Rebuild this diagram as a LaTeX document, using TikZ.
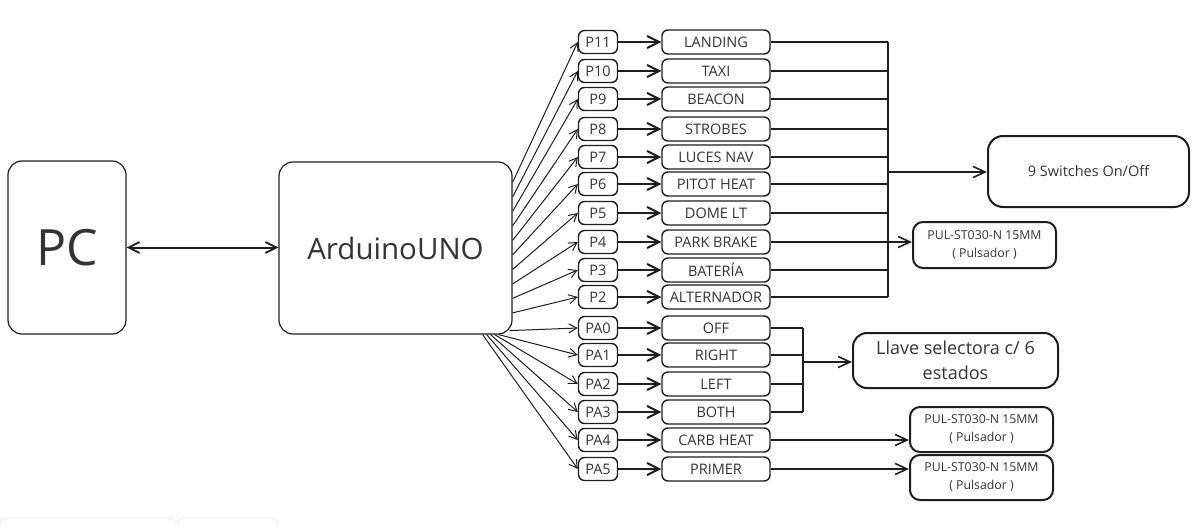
\documentclass[tikz,border=0pt]{standalone}
\usepackage{fontspec}
\setmainfont{Open Sans}
\usetikzlibrary{arrows.meta,calc}
\definecolor{ink}{HTML}{1E1E1E}
\definecolor{txt}{HTML}{333333}
\definecolor{faint}{HTML}{EBEBEB}
\tikzset{
  bigbox/.style={draw=ink, line width=1.2pt, rounded corners=14pt, text=txt, inner sep=0pt, align=center},
  pinbox/.style={draw=ink, line width=1.4pt, rounded corners=6pt, text=txt, inner sep=0pt,
    minimum width=39pt, minimum height=23pt, font=\fontsize{14.5}{16}\selectfont},
  funcbox/.style={draw=ink, line width=1.4pt, rounded corners=6pt, text=txt, inner sep=0pt,
    minimum width=108pt, minimum height=24pt, font=\fontsize{14.5}{16}\selectfont},
  pulbox/.style={draw=ink, line width=2pt, rounded corners=10pt, text=txt, inner sep=0pt, align=center,
    minimum width=143pt, minimum height=45pt, font=\fontsize{12.3}{18}\selectfont},
  fan/.style={draw=ink, line width=1pt, -{Straight Barb[length=8pt,width=9pt,line width=1pt]}},
  link/.style={draw=ink, line width=2.3pt, -{Straight Barb[length=12pt,width=12pt,line width=2pt]}},
  wire/.style={draw=ink, line width=1.6pt},
  feed/.style={draw=ink, line width=1.6pt, -{Straight Barb[length=12pt,width=11pt,line width=1.6pt]}},
  dbl/.style={draw=ink, line width=2pt, {Straight Barb[length=11pt,width=11pt,line width=1.8pt]}-{Straight Barb[length=11pt,width=11pt,line width=1.8pt]}},
}
\begin{document}
\begin{tikzpicture}[x=1pt,y=-1pt]
\useasboundingbox (0,0) rectangle (1202,527);
% faint artifacts at bottom left
\draw[faint, line width=0.8pt, rounded corners=6pt] (0,518) rectangle (175,540);
\draw[faint, line width=0.8pt, rounded corners=6pt] (178,518) rectangle (277,540);

\node[bigbox, minimum width=118pt, minimum height=173pt, font=\fontsize{50}{50}\selectfont] (pc) at (67,247.5) {PC};
\node[bigbox, minimum width=233pt, minimum height=172pt, font=\fontsize{29.5}{30}\selectfont] (ard) at (395.5,248) {ArduinoUNO};
\draw[dbl] (pc.east) -- (pc.east -| ard.west);

\foreach \p/\f/\y [count=\i] in {P11/LANDING/42, P10/TAXI/71, P9/BEACON/99, P8/STROBES/129,
  P7/LUCES NAV/157, P6/PITOT HEAT/184, P5/DOME LT/213, P4/PARK BRAKE/242, P3/BATERÍA/270,
  P2/ALTERNADOR/297, PA0/OFF/328, PA1/RIGHT/355, PA2/LEFT/384, PA3/BOTH/412,
  PA4/CARB HEAT/440, PA5/PRIMER/469}{
  \node[pinbox] (p\i) at (598,\y) {\p};
  \node[funcbox] (f\i) at (716,\y) {\f};
  \draw[link] (p\i) -- (f\i);
}

% fan from Arduino
\foreach \i in {1,...,10}{
  \draw[fan] ($(ard.north east)+(0,{14.5*\i+6.5})$) -- (p\i.west);
}
\draw[fan] ($(ard.south east)+(-3,-4)$) -- (p11.west);
\foreach \i/\dx in {12/-14,13/-18,14/-22,15/-26,16/-30}{
  \draw[fan] ($(ard.south east)+(\dx,0)$) -- (p\i.west);
}

% right-hand boxes
\node[bigbox, line width=2pt, minimum width=201pt, minimum height=71pt, rounded corners=15pt, font=\fontsize{14.5}{18}\selectfont] (sw) at (1088.5,171.5) {9 Switches On/Off};
\node[pulbox, minimum height=46pt] (pul1) at (984.5,245) {PUL-ST030-N 15MM\\( Pulsador )};
\node[bigbox, line width=2pt, minimum width=205pt, minimum height=55pt, font=\fontsize{18}{25}\selectfont] (llave) at (955.5,360.5) {Llave selectora c/ 6\\estados};
\node[pulbox] (pul2) at (981.5,429.5) {PUL-ST030-N 15MM\\( Pulsador )};
\node[pulbox] (pul3) at (981.5,477.5) {PUL-ST030-N 15MM\\( Pulsador )};

% bus for on/off switches
\coordinate (bus) at (888,0);
\foreach \i in {1,...,10}{
  \draw[wire] (f\i.east) -- (f\i.east -| bus);
}
\draw[wire, line width=2pt] (f1.east -| bus) -- (f10.east -| bus);
\coordinate (busout) at (888,172);
\draw[feed] (busout) -- (busout -| sw.west);
\draw[feed] (f8.east -| bus) -- (f8.east -| pul1.west);

% selector bus
\coordinate (sel) at (803,0);
\foreach \i in {11,...,14}{
  \draw[wire] (f\i.east) -- (f\i.east -| sel);
}
\draw[wire, line width=2pt] (f11.east -| sel) -- (f14.east -| sel);
\coordinate (selout) at (803,362);
\draw[feed] (selout) -- (selout -| llave.west);

% push buttons
\draw[feed] (f15.east) -- (f15.east -| pul2.west);
\draw[feed] (f16.east) -- (f16.east -| pul3.west);
\end{tikzpicture}
\end{document}
